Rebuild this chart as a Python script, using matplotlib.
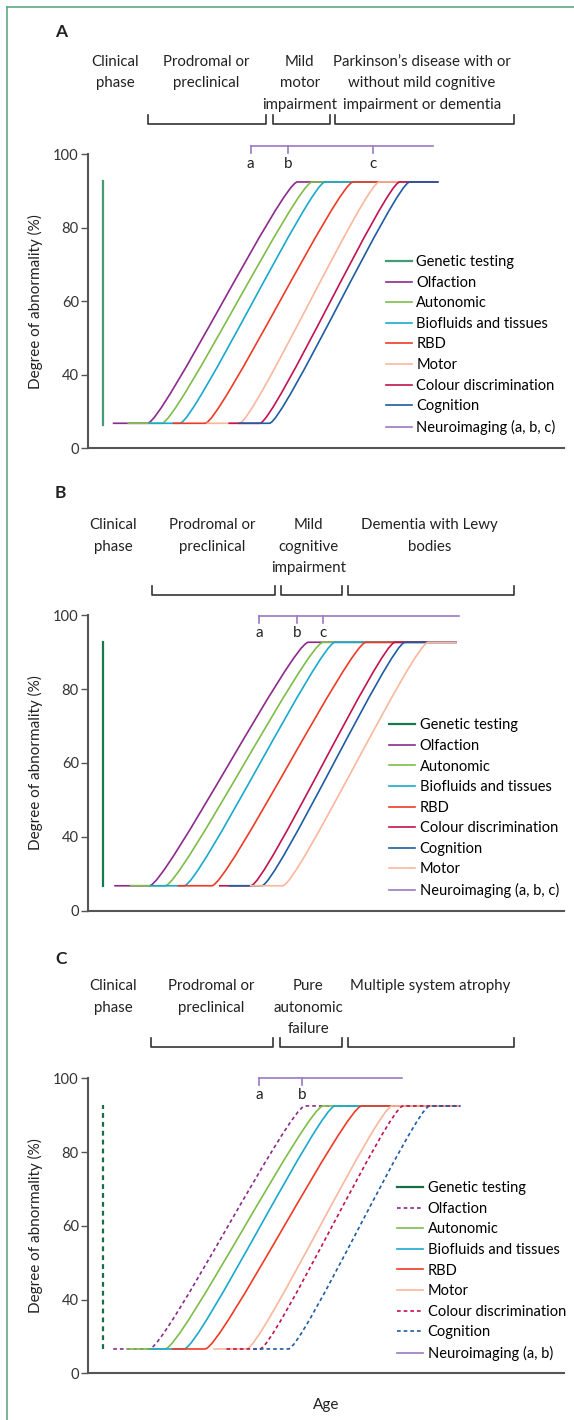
import numpy as np
import matplotlib
matplotlib.use("Agg")
import matplotlib.pyplot as plt
from matplotlib.path import Path
from matplotlib.patches import PathPatch
from matplotlib.lines import Line2D
from matplotlib.transforms import blended_transform_factory

plt.rcParams['font.family'] = ['Lato', 'DejaVu Sans']
plt.rcParams['font.size'] = 10.8

# ---------------- data (age axis 0-100, abnormality %) ----------------
# panel A : Parkinson's disease
phases_A = ["Clinical\nphase", "Prodromal or\npreclinical", "Mild\nmotor\nimpairment",
            "Parkinson\u2019s disease with or\nwithout mild cognitive\nimpairment or dementia"]
phase_x_A = [5.7, 24.9, 44.5, 70.1]
brackets_A = [(12.7, 37.4), (38.8, 50.8), (51.9, 89.4)]
names_A = ["Olfaction", "Autonomic", "Biofluids and tissues", "RBD", "Motor",
           "Colour discrimination", "Cognition"]
start_A = [5.2, 8.3, 12.7, 17.8, 24.9, 29.5, 31.6]
rise_A = [12.5, 15.5, 19.3, 24.6, 31.8, 36.1, 38.1]
top_A = [44.0, 47.1, 49.8, 55.7, 61.2, 65.5, 67.6]
end_A = 73.6
base_A, plateau_A = 13.6, 92.4
genetic_A = [3.1, 12.7, 92.7]
neuro_A = [34.2, 42.1, 59.9]
neuro_end_A = 72.5
neuro_lab_A = ["a", "b", "c"]
neuro_y_A = [102.2, 100.3, 97.3]

# panel B : dementia with Lewy bodies
phases_B = ["Clinical\nphase", "Prodromal or\npreclinical", "Mild\ncognitive\nimpairment",
            "Dementia with Lewy\nbodies"]
phase_x_B = [5.3, 26.0, 46.3, 71.8]
brackets_B = [(13.4, 39.3), (40.5, 53.3), (54.6, 89.4)]
names_B = ["Olfaction", "Autonomic", "Biofluids and tissues", "RBD",
           "Colour discrimination", "Cognition", "Motor"]
start_B = [5.5, 8.8, 13.0, 18.8, 27.5, 29.5, 34.0]
rise_B = [12.9, 16.2, 20.2, 26.0, 34.2, 36.5, 40.9]
top_B = [46.3, 49.4, 51.9, 58.4, 64.5, 66.6, 71.5]
end_B = 77.5
base_B, plateau_B = 13.5, 92.7
genetic_B = [3.2, 13.4, 92.9]
neuro_B = [36.0, 44.0, 49.4]
neuro_end_B = 77.9
neuro_lab_B = ["a", "b", "c"]
neuro_y_B = [99.9, 97.9, 95.1]

# panel C : multiple system atrophy
phases_C = ["Clinical\nphase", "Prodromal or\npreclinical", "Pure\nautonomic\nfailure",
            "Multiple system atrophy"]
phase_x_C = [5.3, 25.8, 46.3, 71.8]
brackets_C = [(13.2, 38.9), (40.3, 53.4), (54.6, 89.4)]
names_C = ["Olfaction", "Autonomic", "Biofluids and tissues", "RBD", "Motor",
           "Colour discrimination", "Cognition"]
start_C = [5.3, 8.1, 13.0, 17.6, 26.3, 29.1, 34.7]
rise_C = [12.9, 16.2, 20.2, 24.6, 33.3, 36.1, 42.1]
top_C = [45.6, 49.4, 51.9, 57.5, 63.9, 66.2, 71.8]
end_C = 78.2
base_C, plateau_C = 13.2, 92.5
genetic_C = [3.1, 13.0, 92.8]
neuro_C = [36.0, 45.0]
neuro_end_C = 65.9
neuro_lab_C = ["a", "b"]
neuro_y_C = [100.0, 98.2, 95.5]
dashed_C = ["Genetic testing", "Olfaction", "Colour discrimination", "Cognition"]

colors = {"Olfaction": "#8c2a8b", "Autonomic": "#7dbd48", "Biofluids and tissues": "#1aa9cc",
          "RBD": "#ef3b26", "Motor": "#f9b79d", "Colour discrimination": "#c1134c",
          "Cognition": "#1e5ca3", "Neuroimaging": "#9b79c4"}
gen_colors = ["#449b76", "#187a4b", "#1a6e47"]


def fwd(y):
    y = np.asarray(y, dtype=float)
    return np.where(y < 40, y / 40, 1 + (y - 40) / 20)


def inv(t):
    t = np.asarray(t, dtype=float)
    return np.where(t < 1, 40 * t, 40 + 20 * (t - 1))


def ramp(ax, s, r, t, e, yb, yp, **kw):
    c = 0.1 * (t - r)
    verts = [(s, yb), (r, yb), (r + c, yb), (t - c, yp), (t, yp), (e, yp)]
    codes = [Path.MOVETO, Path.LINETO, Path.CURVE4, Path.CURVE4, Path.CURVE4, Path.LINETO]
    ax.add_patch(PathPatch(Path(verts, codes), fill=False, capstyle='butt', **kw))


fig = plt.figure(figsize=(5.74, 14.2), dpi=100)
H = 1420.0
ax_rects = [(88, 154, 448.3), (88, 615.3, 910.7), (88, 1078.3, 1373.3)]
letter_y = [32, 493.5, 959]
head_y = [55, 518.3, 979.3]
brack_y = [124, 595, 1047.3]
leg_pos = [(0.626, 0.656), (0.633, 0.651), (0.650, 0.651)]

panels = [
    ("A", phases_A, phase_x_A, brackets_A, names_A, start_A, rise_A, top_A, end_A, base_A, plateau_A,
     genetic_A, neuro_A, neuro_end_A, neuro_lab_A, neuro_y_A, []),
    ("B", phases_B, phase_x_B, brackets_B, names_B, start_B, rise_B, top_B, end_B, base_B, plateau_B,
     genetic_B, neuro_B, neuro_end_B, neuro_lab_B, neuro_y_B, []),
    ("C", phases_C, phase_x_C, brackets_C, names_C, start_C, rise_C, top_C, end_C, base_C, plateau_C,
     genetic_C, neuro_C, neuro_end_C, neuro_lab_C, neuro_y_C, dashed_C),
]

dash = (0, (2.2, 1.8))
for i, (letter, phases, phase_x, brackets, names, starts, rises, tops, end, yb, yp,
        gen, nx, nend, nlab, ny, dashed) in enumerate(panels):
    x0, ytop, ybot = ax_rects[i]
    ax = fig.add_axes([x0 / 574, 1 - ybot / H, 476 / 574, (ybot - ytop) / H])
    ax.set_yscale('function', functions=(fwd, inv))
    ax.set_xlim(0, 100)
    ax.set_ylim(0, 100)
    ax.set_yticks([0, 40, 60, 80, 100])
    ax.set_xticks([])
    for sp in ["top", "right"]:
        ax.spines[sp].set_visible(False)
    for sp in ["left", "bottom"]:
        ax.spines[sp].set_linewidth(1.5)
        ax.spines[sp].set_color("#555555")
    ax.tick_params(axis='y', length=5, width=1.0, color="#555555", pad=1.5,
                   labelsize=10.6, labelcolor="#333333")
    ax.set_ylabel("Degree of abnormality (%)", color="#222222", fontsize=11)
    ax.yaxis.set_label_coords(-0.095, 0.5)

    handles, labels = [], []
    # genetic testing
    gls = dash if "Genetic testing" in dashed else "-"
    ax.plot([gen[0], gen[0]], [gen[1], gen[2]], color=gen_colors[i], lw=1.6, ls=gls)
    handles.append(Line2D([], [], color=gen_colors[i], lw=1.6))
    labels.append("Genetic testing")
    for name, s, r, t in zip(names, starts, rises, tops):
        ls = dash if name in dashed else "-"
        ramp(ax, s, r, t, end, yb, yp, edgecolor=colors[name], lw=1.2, linestyle=ls)
        handles.append(Line2D([], [], color=colors[name], lw=1.2, ls=ls))
        labels.append(name)
    # neuroimaging bracket
    nc = colors["Neuroimaging"]
    ax.plot([nx[0], nend], [ny[0], ny[0]], color=nc, lw=1.2, clip_on=False)
    for xx, lab in zip(nx, nlab):
        ax.plot([xx, xx], [ny[0], ny[1]], color=nc, lw=1.2, clip_on=False)
        ax.text(xx, ny[2], lab, ha='center', va='center', fontsize=11, color="#222222")
    handles.append(Line2D([], [], color=nc, lw=1.2))
    labels.append("Neuroimaging (" + ", ".join(nlab) + ")")

    ax.legend(handles, labels, loc='upper left', bbox_to_anchor=leg_pos[i], frameon=False,
              borderpad=0, borderaxespad=0, handlelength=1.78, handletextpad=0.3,
              labelspacing=0.45, fontsize=10.5)

    # phases header
    tr = blended_transform_factory(ax.transData, fig.transFigure)
    for txt, xx in zip(phases, phase_x):
        ax.text(xx, 1 - head_y[i] / H, txt, transform=tr, ha='center', va='top',
                linespacing=1.68, color="#222222")
    by = 1 - brack_y[i] / H
    bt = by + 9 / H
    for a, b in brackets:
        ax.plot([a, a, b, b], [bt, by, by, bt], transform=tr, color="#333333", lw=1.2,
                clip_on=False)
    fig.text(55 / 574, 1 - letter_y[i] / H, letter, fontsize=12.5, fontweight='bold',
             ha='left', va='center', color="#222222")
    if letter == "C":
        ax.set_xlabel("Age", labelpad=18, color="#222222", fontsize=11)

# green frame on the top and left
bc = "#5aab85"
fig.add_artist(Line2D([7.3 / 574, 1], [1 - 7.3 / H, 1 - 7.3 / H], color=bc, lw=1.2))
fig.add_artist(Line2D([7.3 / 574, 7.3 / 574], [0, 1 - 7.3 / H], color=bc, lw=1.2))

fig.savefig("out.png", dpi=100)
